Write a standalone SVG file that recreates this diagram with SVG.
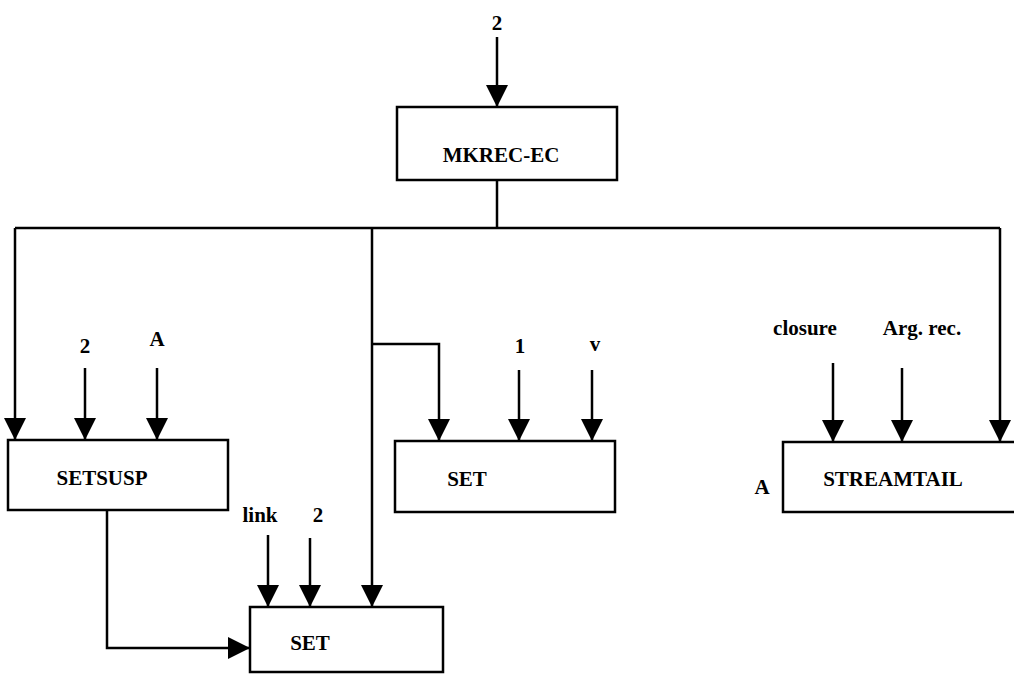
<svg xmlns="http://www.w3.org/2000/svg" width="1014" height="677" viewBox="0 0 1014 677">
<style>
.box{fill:#fff;stroke:#000;stroke-width:2.5}
.t{font-family:"Liberation Serif",serif;font-weight:bold;font-size:21px;fill:#000;text-anchor:middle}
.l{font-family:"Liberation Serif",serif;font-weight:bold;font-size:21px;fill:#000;text-anchor:middle}
.c{fill:none;stroke:#000;stroke-width:2.5}
</style>
<defs>
<marker id="ah" markerUnits="userSpaceOnUse" markerWidth="22" markerHeight="24" viewBox="0 0 22 24" refX="22" refY="11" orient="auto">
<path d="M0,0 L22,11 L0,22 Z" fill="#000"/>
</marker>
</defs>
<rect width="1014" height="677" fill="#fff"/>
<g id="connectors">
<path class="c" d="M497,37 V107" marker-end="url(#ah)"/>
<path class="c" d="M497,180 V228"/>
<path class="c" d="M15,228 H1000"/>
<path class="c" d="M15,228 V440" marker-end="url(#ah)"/>
<path class="c" d="M85,368 V440" marker-end="url(#ah)"/>
<path class="c" d="M157,368 V440" marker-end="url(#ah)"/>
<path class="c" d="M372,228 V607" marker-end="url(#ah)"/>
<path class="c" d="M372,344 H439 V441" marker-end="url(#ah)"/>
<path class="c" d="M519,370 V441" marker-end="url(#ah)"/>
<path class="c" d="M592,370 V441" marker-end="url(#ah)"/>
<path class="c" d="M833,363 V442" marker-end="url(#ah)"/>
<path class="c" d="M902,368 V442" marker-end="url(#ah)"/>
<path class="c" d="M1000,228 V442" marker-end="url(#ah)"/>
<path class="c" d="M268,535 V607" marker-end="url(#ah)"/>
<path class="c" d="M310,538 V607" marker-end="url(#ah)"/>
<path class="c" d="M107,510 V648 H250" marker-end="url(#ah)"/>
</g>
<g id="labels">
<text class="l" x="497" y="30">2</text>
<text class="l" x="85" y="353">2</text>
<text class="l" x="157" y="346">A</text>
<text class="l" x="520" y="353">1</text>
<text class="l" x="595" y="351">v</text>
<text class="l" x="805" y="335">closure</text>
<text class="l" x="922" y="335">Arg. rec.</text>
<text class="l" x="260" y="522">link</text>
<text class="l" x="318" y="522">2</text>
<text class="l" x="762" y="494">A</text>
</g>
<g id="mkrec">
<rect class="box" x="397" y="107" width="220" height="73"/>
<text class="t" x="501" y="162">MKREC-EC</text>
</g>
<g id="setsusp">
<rect class="box" x="8" y="440" width="220" height="70"/>
<text class="t" x="102" y="485">SETSUSP</text>
</g>
<g id="set1">
<rect class="box" x="395" y="441" width="220" height="71"/>
<text class="t" x="467" y="486">SET</text>
</g>
<g id="streamtail">
<path class="box" d="M1016,442 H783 V512 H1016"/>
<text class="t" x="893" y="486">STREAMTAIL</text>
</g>
<g id="set2">
<rect class="box" x="250" y="607" width="193" height="65"/>
<text class="t" x="310" y="650">SET</text>
</g>
</svg>
